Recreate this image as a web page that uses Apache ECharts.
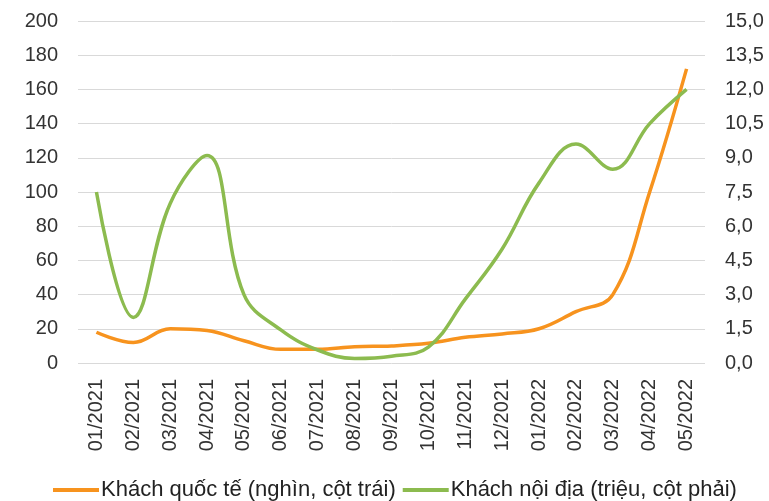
<!DOCTYPE html>
<html>
<head>
<meta charset="utf-8">
<script src="https://cdn.jsdelivr.net/npm/echarts@6/dist/echarts.min.js"></script>
<style>
  html, body { margin: 0; padding: 0; background: #fff; }
  #chart { width: 769px; height: 501px; }
</style>
</head>
<body>
<div id="chart"></div>
<script>
// tháng
const months = [
  '01/2021', '02/2021', '03/2021', '04/2021', '05/2021', '06/2021',
  '07/2021', '08/2021', '09/2021', '10/2021', '11/2021', '12/2021',
  '01/2022', '02/2022', '03/2022', '04/2022', '05/2022'
]
// Khách quốc tế (nghìn) - trục trái
const intlVisitors = [18, 12, 20, 19, 13, 8, 8, 9.5, 10, 11.5, 15, 17, 20, 30, 40, 100, 172]
// Khách nội địa (triệu) - trục phải
const domesticVisitors = [7.5, 2.0, 7.0, 9.1, 3.0, 1.45, 0.57, 0.2, 0.3, 0.7, 2.8, 5.0, 7.9, 9.6, 8.5, 10.5, 12.0]

const FONT = '"Liberation Sans", Arial, sans-serif'
const chart = echarts.init(document.getElementById('chart'))

chart.setOption({
  animation: false,
  textStyle: { fontFamily: FONT },
  grid: { left: 78, right: 64, top: 21, bottom: 138 },
  legend: {
    bottom: 0,
    left: 53,
    padding: 0,
    icon: 'rect',
    itemWidth: 46,
    itemHeight: 4,
    itemGap: 7,
    textStyle: { fontSize: 22, color: '#222', fontFamily: FONT, padding: [0, 0, 0, -3] },
    data: ['Khách quốc tế (nghìn, cột trái)', 'Khách nội địa (triệu, cột phải)']
  },
  xAxis: {
    type: 'category',
    data: months,
    boundaryGap: true,
    axisLine: { show: false },
    axisTick: { show: false },
    axisLabel: { rotate: 90, fontSize: 20, color: '#333', margin: 16, interval: 0 }
  },
  yAxis: [
    {
      type: 'value',
      min: 0, max: 200, interval: 20,
      axisLine: { show: false },
      axisTick: { show: false },
      axisLabel: { fontSize: 20, color: '#333', margin: 20 },
      splitLine: { lineStyle: { color: '#d9d9d9', width: 1 } }
    },
    {
      type: 'value',
      min: 0, max: 15, interval: 1.5,
      axisLine: { show: false },
      axisTick: { show: false },
      axisLabel: {
        fontSize: 20, color: '#333', margin: 20,
        formatter: (v) => v.toFixed(1).replace('.', ',')
      },
      splitLine: { show: false }
    }
  ],
  series: [
    {
      name: 'Khách quốc tế (nghìn, cột trái)',
      type: 'line',
      yAxisIndex: 0,
      data: intlVisitors,
      smooth: 0.4,
      symbol: 'none',
      lineStyle: { color: '#f7931e', width: 3.5 },
      itemStyle: { color: '#f7931e' }
    },
    {
      name: 'Khách nội địa (triệu, cột phải)',
      type: 'line',
      yAxisIndex: 1,
      data: domesticVisitors,
      smooth: 0.4,
      symbol: 'none',
      lineStyle: { color: '#8cbb4f', width: 3.5 },
      itemStyle: { color: '#8cbb4f' }
    }
  ]
})
</script>
</body>
</html>
